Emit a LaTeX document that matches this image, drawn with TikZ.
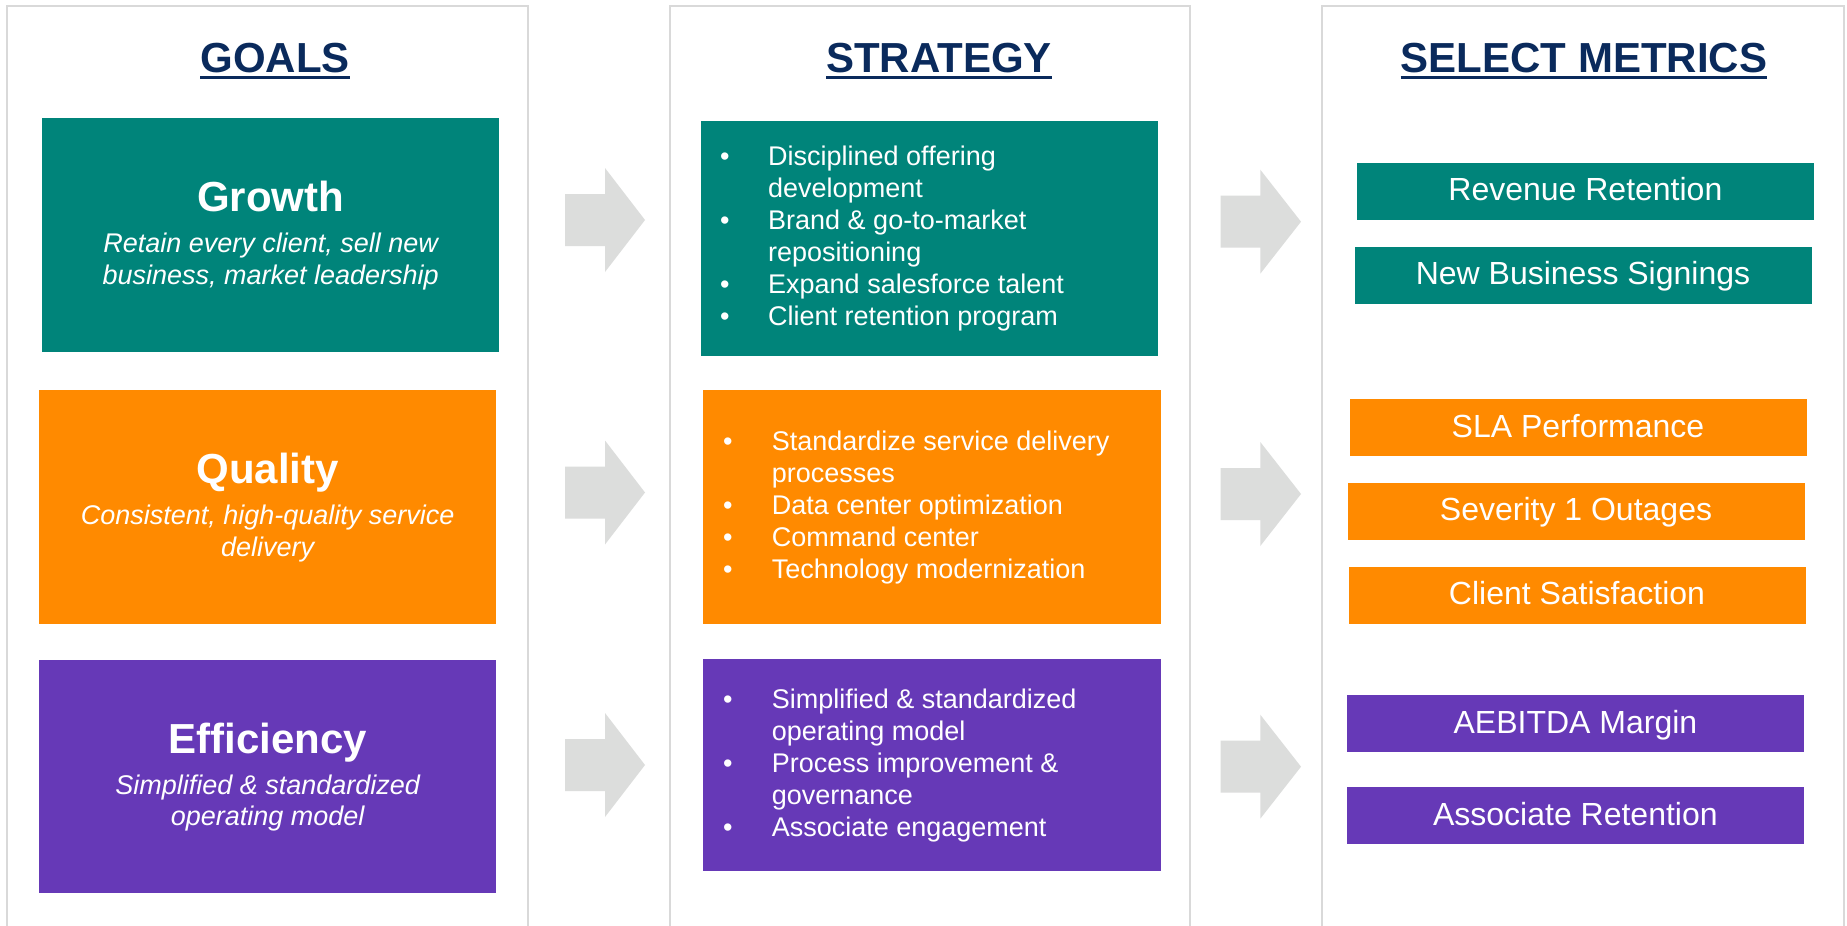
\documentclass[tikz,border=0pt]{standalone}
\usepackage{fontspec}
\setmainfont{Liberation Sans}
\usetikzlibrary{calc}
\definecolor{tealc}{HTML}{00847A}
\definecolor{orangec}{HTML}{FF8A00}
\definecolor{purplec}{HTML}{6639B7}
\definecolor{navyc}{HTML}{0A2A5C}
\definecolor{arrowc}{HTML}{DCDDDC}
\definecolor{panelc}{HTML}{D9D9D9}
\newcommand\garrow[4]{\fill[arrowc] (#1,#4-26) -- (#2,#4-26) -- (#2,#4-52) -- (#3,#4) -- (#2,#4+52) -- (#2,#4+26) -- (#1,#4+26) -- cycle;}
\begin{document}
\begin{tikzpicture}[x=1pt,y=-1pt,
 panel/.style={draw=panelc,line width=2.5pt},
 colhead/.style={anchor=base,inner sep=0,text=navyc,font=\fontsize{42}{50}\selectfont\bfseries},
 uline/.style={draw=navyc,line width=2.6pt},
 cbox/.style={rectangle,anchor=north west,inner sep=0,minimum width=457pt},
 goalbox/.style={cbox,minimum height=234pt},
 goaltitle/.style={anchor=base,inner sep=0,text=white,font=\fontsize{42}{50}\selectfont\bfseries},
 goalsub/.style={anchor=base,inner sep=0,text=white,font=\fontsize{27}{32}\selectfont\itshape},
 blist/.style={anchor=base west,inner sep=0,text=white,font=\fontsize{27}{32}\selectfont},
 metricbox/.style={cbox,minimum height=57pt,text=white,font=\fontsize{32}{38}\selectfont,text height=19pt,text depth=0pt}
]
\useasboundingbox (0,0) rectangle (1847,926);
\fill[white] (0,0) rectangle (1847,926);

% panels
\draw[panel] (7,940) -- (7,6) -- (528,6) -- (528,940);
\draw[panel] (670,940) -- (670,6) -- (1190,6) -- (1190,940);
\draw[panel] (1322,940) -- (1322,6) -- (1844,6) -- (1844,940);

% headers
\node[colhead] (h1) at (275,72.7) {GOALS};
\node[colhead] (h2) at (939,72.7) {STRATEGY};
\node[colhead] (h3) at (1584,72.7) {SELECT METRICS};
\foreach \h in {h1,h2,h3}{
  \draw[uline] ($(\h.base west)+(0,4.8)$) -- ($(\h.base east)+(0,4.8)$);
}

% goals
\node[goalbox,fill=tealc] (g1) at (42,118) {};
\node[goalbox,fill=orangec] (g2) at (39,390) {};
\node[goalbox,fill=purplec,minimum height=233pt] (g3) at (39,660) {};
\node[goaltitle] (g1t) at ($(g1.center)+(0,-23.3)$) {Growth};
\node[goalsub] (g1a) at ($(g1.center)+(0,17.5)$) {Retain every client, sell new};
\node[goalsub] (g1b) at ($(g1.center)+(0,49.1)$) {business, market leadership};
\node[goaltitle] (g2t) at ($(g2.center)+(0,-23.3)$) {Quality};
\node[goalsub] (g2a) at ($(g2.center)+(0,17.5)$) {Consistent, high-quality service};
\node[goalsub] (g2b) at ($(g2.center)+(0,49.1)$) {delivery};
\node[goaltitle] (g3t) at ($(g3.center)+(0,-23.3)$) {Efficiency};
\node[goalsub] (g3a) at ($(g3.center)+(0,17.5)$) {Simplified \& standardized};
\node[goalsub] (g3b) at ($(g3.center)+(0,49.1)$) {operating model};

% strategy
\node[cbox,fill=tealc,minimum height=235pt] (s1) at (701,121) {};
\node[cbox,fill=orangec,minimum width=458pt,minimum height=234pt] (s2) at (703,390) {};
\node[cbox,fill=purplec,minimum width=458pt,minimum height=212pt] (s3) at (703,659) {};
\node[blist] (s1t) at (720,165) {\begin{tabular}[t]{@{}p{48pt}@{}l@{}}
\textbullet & Disciplined offering\\
 & development\\
\textbullet & Brand \& go-to-market\\
 & repositioning\\
\textbullet & Expand salesforce talent\\
\textbullet & Client retention program
\end{tabular}};
\node[blist] (s2t) at (723,450) {\begin{tabular}[t]{@{}p{48.6pt}@{}l@{}}
\textbullet & Standardize service delivery\\
 & processes\\
\textbullet & Data center optimization\\
\textbullet & Command center\\
\textbullet & Technology modernization
\end{tabular}};
\node[blist] (s3t) at (723,708) {\begin{tabular}[t]{@{}p{48.6pt}@{}l@{}}
\textbullet & Simplified \& standardized\\
 & operating model\\
\textbullet & Process improvement \&\\
 & governance\\
\textbullet & Associate engagement
\end{tabular}};

% metrics
\node[metricbox,fill=tealc] (m1) at (1356.7,162.3) {Revenue Retention};
\node[metricbox,fill=tealc] (m2) at (1354.3,246.3) {New Business Signings};
\node[metricbox,fill=orangec] (m3) at (1349.3,399) {SLA Performance};
\node[metricbox,fill=orangec] (m4) at (1347.3,482.7) {Severity 1 Outages};
\node[metricbox,fill=orangec] (m5) at (1348.3,566.7) {Client Satisfaction};
\node[metricbox,fill=purplec] (m6) at (1346.7,695) {AEBITDA Margin};
\node[metricbox,fill=purplec] (m7) at (1346.7,787) {Associate Retention};

% arrows
\garrow{565}{605}{645}{220}
\garrow{565}{605}{645}{492.5}
\garrow{565}{605}{645}{765}
\garrow{1220.7}{1260.3}{1301}{221.7}
\garrow{1220.7}{1260.3}{1301}{494}
\garrow{1220.7}{1260.3}{1301}{766.7}
\end{tikzpicture}
\end{document}
